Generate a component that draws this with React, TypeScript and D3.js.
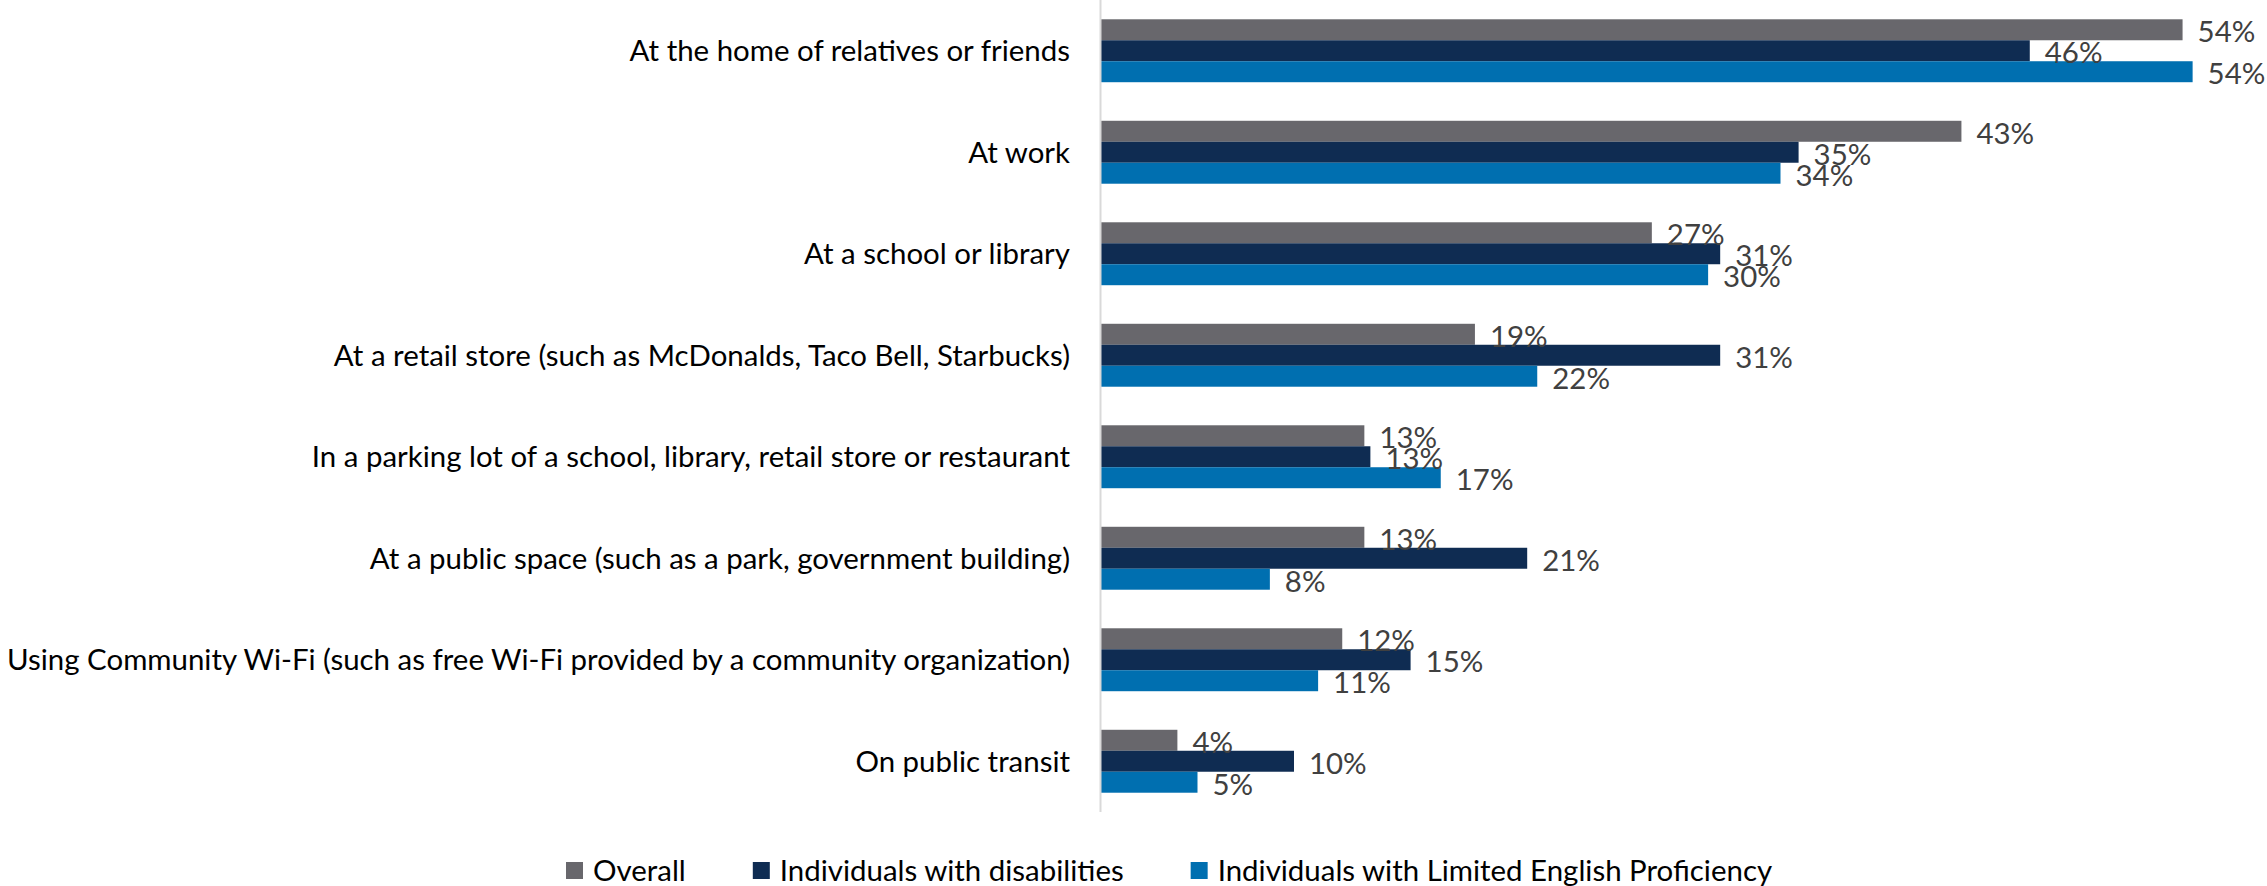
import React, { useEffect, useRef } from "react";
import * as d3 from "d3";

const categories = [
  "At the home of relatives or friends",
  "At work",
  "At a school or library",
  "At a retail store (such as McDonalds, Taco Bell, Starbucks)",
  "In a parking lot of a school, library, retail store or restaurant",
  "At a public space (such as a park, government building)",
  "Using Community Wi-Fi (such as free Wi-Fi provided by a community organization)",
  "On public transit",
];

const seriesNames = [
  "Overall",
  "Individuals with disabilities",
  "Individuals with Limited English Proficiency",
];

const overall = [0.538, 0.428, 0.274, 0.186, 0.131, 0.131, 0.12, 0.038];
const disabilities = [0.462, 0.347, 0.308, 0.308, 0.134, 0.212, 0.154, 0.096];
const limitedEnglish = [0.543, 0.338, 0.302, 0.217, 0.169, 0.084, 0.108, 0.048];

const seriesColors = ["#68676C", "#0F2C52", "#006FB0"];

export default function App() {
  const ref = useRef<SVGSVGElement>(null);

  useEffect(() => {
    const svg = d3.select(ref.current);
    svg.selectAll("*").remove();
    const font = "Lato, 'Open Sans', sans-serif";
    const fs = 28;
    const seriesValues = [overall, disabilities, limitedEnglish];

    const x = d3.scaleLinear().domain([0, 0.58]).range([1101, 2267]);
    const y = d3
      .scaleBand<string>()
      .domain(categories)
      .range([0, 812])
      .paddingInner(0.38)
      .paddingOuter(0.19);
    const ys = d3
      .scaleBand<string>()
      .domain(seriesNames)
      .range([0, y.bandwidth()]);

    // measure compression factor using the longest category label
    const probe = svg
      .append("text")
      .attr("font-family", font)
      .attr("font-size", fs)
      .text(categories[6]);
    const natural = (probe.node() as SVGTextElement).getComputedTextLength();
    probe.remove();
    const f = 1063 / natural;

    // bars
    seriesNames.forEach((s, si) => {
      const vals = seriesValues[si];
      svg
        .append("g")
        .selectAll("rect")
        .data(categories)
        .join("rect")
        .attr("x", x(0))
        .attr("y", (c) => (y(c) as number) + (ys(s) as number))
        .attr("width", (c, i) => x(vals[i]) - x(0))
        .attr("height", ys.bandwidth())
        .attr("fill", seriesColors[si]);
    });

    // axis line
    svg
      .append("line")
      .attr("x1", x(0) - 0.5)
      .attr("x2", x(0) - 0.5)
      .attr("y1", 0)
      .attr("y2", 812)
      .attr("stroke", "#d9d9d9")
      .attr("stroke-width", 2);

    // category labels
    svg
      .append("g")
      .selectAll("text")
      .data(categories)
      .join("text")
      .attr(
        "transform",
        (c) => `translate(1070,${(y(c) as number) + y.bandwidth() / 2}) scale(${f},1)`
      )
      .attr("text-anchor", "end")
      .attr("dominant-baseline", "central")
      .attr("font-family", font)
      .attr("font-size", fs)
      .attr("fill", "#000")
      .text((c) => c);

    // data labels
    const fmt = d3.format(".0%");
    seriesNames.forEach((s, si) => {
      const vals = seriesValues[si];
      svg
        .append("g")
        .selectAll("text")
        .data(categories)
        .join("text")
        .attr(
          "transform",
          (c, i) =>
            `translate(${x(vals[i]) + 15},${(y(c) as number) + (ys(s) as number) + ys.bandwidth() / 2 + 2}) scale(${f},1)`
        )
        .attr("dominant-baseline", "central")
        .attr("font-family", font)
        .attr("font-size", fs)
        .attr("fill", "#404040")
        .text((c, i) => fmt(vals[i]));
    });

    // legend
    const lg = svg.append("g");
    let cx = 566;
    const ly = 870;
    seriesNames.forEach((s, si) => {
      lg.append("rect")
        .attr("x", cx)
        .attr("y", ly - 8)
        .attr("width", 17)
        .attr("height", 17)
        .attr("fill", seriesColors[si]);
      const t = lg
        .append("text")
        .attr("transform", `translate(${cx + 27},${ly}) scale(${f},1)`)
        .attr("dominant-baseline", "central")
        .attr("font-family", font)
        .attr("font-size", fs)
        .attr("fill", "#000")
        .text(s);
      const w = (t.node() as SVGTextElement).getComputedTextLength() * f;
      cx = cx + 27 + w + 67;
    });
  }, []);

  return (
    <svg
      ref={ref}
      width={2267}
      height={886}
      style={{ position: "absolute", left: 0, top: 0, background: "#fff" }}
    />
  );
}
